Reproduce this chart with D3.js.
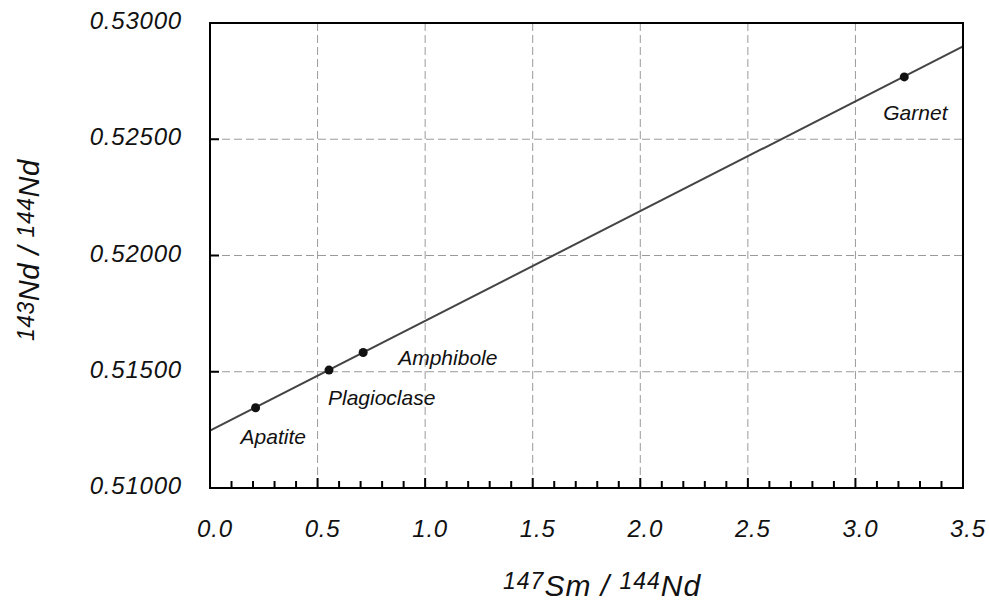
<!DOCTYPE html>
<html>
<head>
<meta charset="utf-8">
<title>Sm-Nd isochron</title>
<script src="https://cdn.jsdelivr.net/npm/d3@7"></script>
<style>
  body { margin: 0; background: #fff; }
  text { font-family: "Liberation Sans", Arial, sans-serif; font-style: italic; fill: #111; }
  .grid line { stroke: #9a9a9a; stroke-width: 1; stroke-dasharray: 8,4; }
  .frame { fill: none; stroke: #000; stroke-width: 2; }
  .tick { stroke: #000; stroke-width: 2; }
  .tickLabel { font-size: 24px; letter-spacing: 0.8px; }
  .mineral { font-size: 21px; }
</style>
</head>
<body>
<script>
// data
var minerals = ["Apatite", "Plagioclase", "Amphibole", "Garnet"];
var smNd = [0.212, 0.553, 0.712, 3.227];          // 147Sm/144Nd
var ndNd = [0.51345, 0.51507, 0.51583, 0.52768];  // 143Nd/144Nd
var isochronIntercept = 0.51247;
var isochronSlope = 0.00472;

var xTicks = [0.0, 0.5, 1.0, 1.5, 2.0, 2.5, 3.0, 3.5];
var yTicks = [0.51, 0.515, 0.52, 0.525, 0.53];

// label offsets from each point (px)
var labelDx = [-15, -1, 35, -21];
var labelDy = [36, 35, 13, 43];

var width = 989, height = 604;
var margin = {top: 23, right: 26, bottom: 116, left: 210};

var svg = d3.select("body").append("svg")
    .attr("width", width)
    .attr("height", height);

var x = d3.scaleLinear().domain([0, 3.5]).range([margin.left, width - margin.right]);
var y = d3.scaleLinear().domain([0.51, 0.53]).range([height - margin.bottom, margin.top]);

var x0 = x.range()[0], x1 = x.range()[1];
var y0 = y.range()[0], y1 = y.range()[1];

// grid
var grid = svg.append("g").attr("class", "grid");
grid.selectAll(".gx")
    .data(xTicks.slice(1, -1))
    .enter().append("line")
    .attr("x1", function(d){ return x(d); })
    .attr("x2", function(d){ return x(d); })
    .attr("y1", y1).attr("y2", y0);
grid.selectAll(".gy")
    .data(yTicks.slice(1, -1))
    .enter().append("line")
    .attr("x1", x0).attr("x2", x1)
    .attr("y1", function(d){ return y(d); })
    .attr("y2", function(d){ return y(d); });

// inward ticks: minor every 0.1 on x
var minorX = d3.range(1, 35).map(function(i){ return i / 10; });
svg.selectAll(".xt")
    .data(minorX)
    .enter().append("line")
    .attr("class", "tick")
    .attr("x1", function(d){ return x(d); })
    .attr("x2", function(d){ return x(d); })
    .attr("y1", y0)
    .attr("y2", function(d, i){ return (i + 1) % 5 === 0 ? y0 - 10 : y0 - 7; });

svg.selectAll(".yt")
    .data(yTicks.slice(1, -1))
    .enter().append("line")
    .attr("class", "tick")
    .attr("x1", x0).attr("x2", x0 + 9)
    .attr("y1", function(d){ return y(d); })
    .attr("y2", function(d){ return y(d); });

// tick labels
svg.selectAll(".xl")
    .data(xTicks)
    .enter().append("text")
    .attr("class", "tickLabel")
    .attr("text-anchor", "middle")
    .attr("x", function(d){ return x(d) + 5; })
    .attr("y", y0 + 49)
    .text(function(d){ return d3.format(".1f")(d); });

svg.selectAll(".yl")
    .data(yTicks)
    .enter().append("text")
    .attr("class", "tickLabel")
    .attr("text-anchor", "end")
    .attr("x", x0 - 28)
    .attr("y", function(d){ return y(d) + 6; })
    .text(function(d){ return d3.format(".5f")(d); });

// isochron
var line = d3.line()
    .x(function(d){ return x(d); })
    .y(function(d){ return y(isochronIntercept + isochronSlope * d); });
svg.append("path")
    .datum([0, 3.5])
    .attr("d", line)
    .attr("fill", "none")
    .attr("stroke", "#444")
    .attr("stroke-width", 2);

// points
svg.selectAll(".pt")
    .data(minerals)
    .enter().append("circle")
    .attr("cx", function(d, i){ return x(smNd[i]); })
    .attr("cy", function(d, i){ return y(ndNd[i]); })
    .attr("r", 4.5)
    .attr("fill", "#111");

svg.selectAll(".mineral")
    .data(minerals)
    .enter().append("text")
    .attr("class", "mineral")
    .attr("x", function(d, i){ return x(smNd[i]) + labelDx[i]; })
    .attr("y", function(d, i){ return y(ndNd[i]) + labelDy[i]; })
    .text(function(d){ return d; });

// frame
svg.append("rect")
    .attr("class", "frame")
    .attr("x", x0).attr("y", y1)
    .attr("width", x1 - x0).attr("height", y0 - y1);

// axis titles
var xt = svg.append("text")
    .attr("x", 503)
    .attr("y", 596)
    .style("font-size", "30px")
    .style("letter-spacing", "1px");
xt.append("tspan").style("font-size", "23px").attr("dy", -7).text("147");
xt.append("tspan").attr("dy", 7).text("Sm / ");
xt.append("tspan").style("font-size", "23px").attr("dy", -7).text("144");
xt.append("tspan").attr("dy", 7).text("Nd");

var yt = svg.append("text")
    .attr("transform", "translate(39,341) rotate(-90)")
    .style("font-size", "29px")
    .style("letter-spacing", "0.5px");
yt.append("tspan").style("font-size", "23px").attr("dy", -5).text("143");
yt.append("tspan").attr("dy", 5).text("Nd / ");
yt.append("tspan").style("font-size", "23px").attr("dy", -5).text("144");
yt.append("tspan").attr("dy", 5).text("Nd");
</script>
</body>
</html>
